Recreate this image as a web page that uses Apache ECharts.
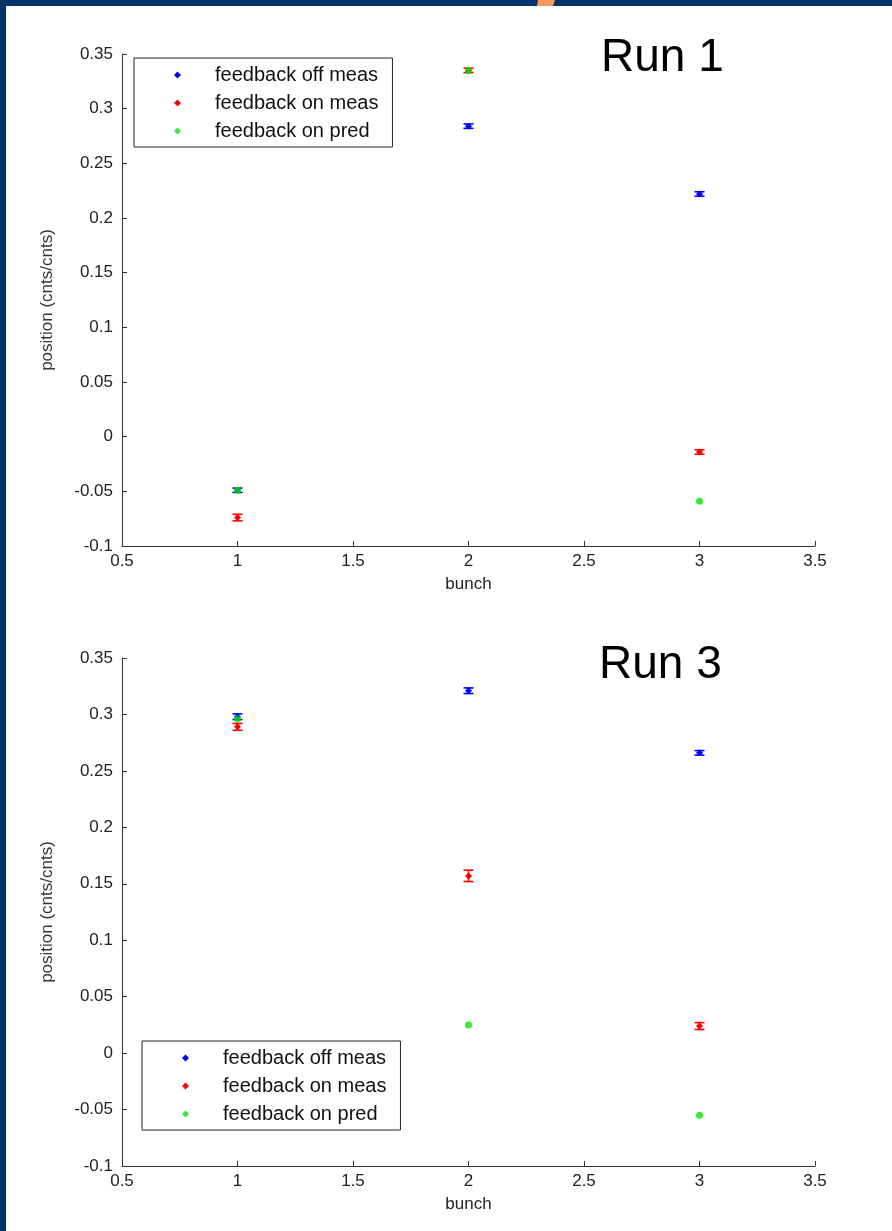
<!DOCTYPE html>
<html>
<head>
<meta charset="utf-8">
<script src="https://cdn.jsdelivr.net/npm/echarts@6/dist/echarts.min.js"></script>
<style>
html,body{margin:0;padding:0;background:#fff;}
#chart{width:892px;height:1231px;}
</style>
</head>
<body>
<div id="chart"></div>
<script>
// ---- data ----
const bunches = [1, 2, 3];
const seriesNames = ['feedback off meas', 'feedback on meas', 'feedback on pred'];
const runTitles = ['Run 1', 'Run 3'];

// Run 1
const run1OffMeas = [-0.049, 0.284, 0.222];
const run1OffErr  = [0.002, 0.002, 0.002];
const run1OnMeas  = [-0.074, 0.335, -0.014];
const run1OnErr   = [0.003, 0.002, 0.002];
const run1OnPred  = [-0.049, 0.335, -0.059];

// Run 3
const run3OffMeas = [0.298, 0.321, 0.266];
const run3OffErr  = [0.0025, 0.0025, 0.002];
const run3OnMeas  = [0.289, 0.157, 0.024];
const run3OnErr   = [0.003, 0.005, 0.003];
const run3OnPred  = [0.296, 0.025, -0.055];

const xMin = 0.5, xMax = 3.5, xStep = 0.5;
const yMin = -0.1, yMax = 0.35, yStep = 0.05;

const colors = ['#0000ff', '#ff0000', '#00e600'];
const FONT = '"Liberation Sans", Arial, sans-serif';

function errRender(params, api) {
  const x = api.value(0), y = api.value(1), e = api.value(2);
  const c = api.coord([x, y]);
  const lo = api.coord([x, y - e]);
  const hi = api.coord([x, y + e]);
  const color = api.visual('color');
  const hw = 5, r = 3.5;
  const st = { stroke: color, lineWidth: 1.6 };
  return {
    type: 'group',
    children: [
      { type: 'line', shape: { x1: c[0], y1: lo[1], x2: c[0], y2: hi[1] }, style: st },
      { type: 'line', shape: { x1: c[0] - hw, y1: lo[1], x2: c[0] + hw, y2: lo[1] }, style: st },
      { type: 'line', shape: { x1: c[0] - hw, y1: hi[1], x2: c[0] + hw, y2: hi[1] }, style: st },
      { type: 'polygon', shape: { points: [[c[0], c[1] - r], [c[0] + r, c[1]], [c[0], c[1] + r], [c[0] - r, c[1]]] }, style: { fill: color } }
    ]
  };
}

function errData(vals, errs) { return bunches.map((b, i) => [b, vals[i], errs[i]]); }
function ptData(vals) { return bunches.map((b, i) => [b, vals[i]]); }

function makeSeries(gi, off, offErr, on, onErr, pred) {
  return [
    { name: seriesNames[0], type: 'custom', xAxisIndex: gi, yAxisIndex: gi, renderItem: errRender,
      itemStyle: { color: colors[0] }, encode: { x: 0, y: 1 }, data: errData(off, offErr), z: 2 },
    { name: seriesNames[1], type: 'custom', xAxisIndex: gi, yAxisIndex: gi, renderItem: errRender,
      itemStyle: { color: colors[1] }, encode: { x: 0, y: 1 }, data: errData(on, onErr), z: 3 },
    { name: seriesNames[2], type: 'scatter', xAxisIndex: gi, yAxisIndex: gi, symbol: 'circle', symbolSize: 7,
      itemStyle: { color: colors[2] }, data: ptData(pred), z: 4 }
  ];
}

function xAxis(gi) {
  return {
    type: 'value', gridIndex: gi, min: xMin, max: xMax, interval: xStep,
    name: 'bunch', nameLocation: 'middle', nameGap: 30,
    nameTextStyle: { fontSize: 17, color: '#222', fontFamily: FONT },
    axisLine: { show: true, onZero: false, lineStyle: { color: '#333', width: 1 } },
    axisTick: { show: true, inside: true, length: 5, lineStyle: { color: '#333' } },
    axisLabel: { fontSize: 17, color: '#222', fontFamily: FONT, margin: 7 },
    splitLine: { show: false }
  };
}
function yAxis(gi) {
  return {
    type: 'value', gridIndex: gi, min: yMin, max: yMax, interval: yStep,
    name: 'position (cnts/cnts)', nameLocation: 'middle', nameGap: 66,
    nameTextStyle: { fontSize: 17, color: '#333', fontFamily: FONT },
    axisLine: { show: true, onZero: false, lineStyle: { color: '#333', width: 1 } },
    axisTick: { show: true, inside: true, length: 5, lineStyle: { color: '#333' } },
    axisLabel: { fontSize: 17, color: '#222', fontFamily: FONT, margin: 9 },
    splitLine: { show: false }
  };
}

function legend(left, top) {
  return {
    data: seriesNames, orient: 'vertical', left: left, top: top,
    backgroundColor: '#fff', borderColor: '#222', borderWidth: 1,
    padding: [7, 14, 6, 40], itemGap: 8, itemWidth: 7, itemHeight: 7,
    icon: 'diamond', selectedMode: false,
    textStyle: { fontSize: 20, color: '#111', fontFamily: FONT, lineHeight: 20, padding: [0, 0, 0, 29] }
  };
}

const chart = echarts.init(document.getElementById('chart'), null, { renderer: 'canvas' });
chart.setOption({
  backgroundColor: '#fff',
  animation: false,
  grid: [
    { left: 122, top: 54, width: 693, height: 492 },
    { left: 122, top: 658, width: 693, height: 508 }
  ],
  xAxis: [xAxis(0), xAxis(1)],
  yAxis: [yAxis(0), yAxis(1)],
  legend: [legend(134, 58), legend(142, 1041)],
  series: [].concat(
    makeSeries(0, run1OffMeas, run1OffErr, run1OnMeas, run1OnErr, run1OnPred),
    makeSeries(1, run3OffMeas, run3OffErr, run3OnMeas, run3OnErr, run3OnPred)
  ),
  graphic: [
    { type: 'rect', left: 0, top: 0, shape: { width: 892, height: 6 }, style: { fill: '#00346b' }, z: 10 },
    { type: 'rect', left: 0, top: 0, shape: { width: 6, height: 1231 }, style: { fill: '#00346b' }, z: 10 },
    { type: 'polygon', shape: { points: [[538, 0], [555, 0], [553, 6], [537, 6]] }, style: { fill: '#f59b5e' }, z: 11 },
    { type: 'text', style: { x: 601, y: 58, text: runTitles[0], font: '46px ' + FONT, fill: '#000', textAlign: 'left', textVerticalAlign: 'middle' }, z: 10 },
    { type: 'text', style: { x: 599, y: 665, text: runTitles[1], font: '46px ' + FONT, fill: '#000', textAlign: 'left', textVerticalAlign: 'middle' }, z: 10 }
  ]
});
</script>
</body>
</html>
